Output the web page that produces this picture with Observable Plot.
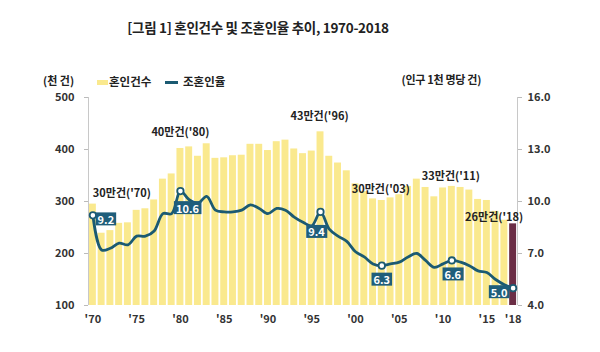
<!DOCTYPE html>
<html><head><meta charset="utf-8">
<script src="https://cdn.jsdelivr.net/npm/d3@7"></script>
<script src="https://cdn.jsdelivr.net/npm/@observablehq/plot@0.6"></script>
<style>
body{margin:0;background:#fff;font-family:"Noto Sans CJK KR","Noto Sans",sans-serif;}
#wrap{position:relative;width:600px;height:352px;overflow:hidden}
#head{position:relative;height:88px}
.t{position:absolute;white-space:nowrap;font-weight:bold;color:#222;line-height:16px}
</style></head><body>
<div id="wrap">
<div id="head">
 <div class="t" style="left:0;width:516px;text-align:center;top:19px;font-size:13.5px;letter-spacing:-0.3px">[그림 1] 혼인건수 및 조혼인율 추이, 1970-2018</div>
 <div class="t" style="left:43px;top:72px;font-size:11px">(천 건)</div>
 <div class="t" style="left:97px;top:73px;font-size:11.5px"><span style="display:inline-block;width:11px;height:5px;background:#fae98e;vertical-align:middle;margin-right:1px"></span>혼인건수</div>
 <div class="t" style="left:165px;top:73px;font-size:11.5px"><span style="display:inline-block;width:13px;height:3px;background:#1b5a72;vertical-align:middle;margin-right:5px"></span>조혼인율</div>
 <div class="t" style="right:119px;top:71px;font-size:11px;letter-spacing:-0.3px">(인구 1천 명당 건)</div>
</div>
<div id="chart"></div>
</div>
<script>
// ---- data ----
const years = [1970,1971,1972,1973,1974,1975,1976,1977,1978,1979,
  1980,1981,1982,1983,1984,1985,1986,1987,1988,1989,
  1990,1991,1992,1993,1994,1995,1996,1997,1998,1999,
  2000,2001,2002,2003,2004,2005,2006,2007,2008,2009,
  2010,2011,2012,2013,2014,2015,2016,2017,2018];
// 혼인건수 (천 건)
const marriages = [295,239,244,258,259,283,286,303,343,353,
  402,405,387,411,383,384,388,389,410,410,
  398,415,418,401,392,397,434,387,374,359,
  334,319,305,302,307,313,329,343,327,309,
  326,329,327,322,304,302,281,264,257];
// 조혼인율 (인구 1천 명당 건)
const rates = [9.2,7.2,7.3,7.6,7.5,8.0,8.0,8.3,9.3,9.3,
  10.6,10.1,9.9,10.3,9.5,9.4,9.4,9.5,9.8,9.6,
  9.3,9.6,9.5,9.1,8.8,8.6,9.4,8.4,8.0,7.7,
  7.1,6.8,6.4,6.3,6.4,6.5,6.8,7.0,6.6,6.2,
  6.4,6.6,6.5,6.3,6.0,5.9,5.5,5.2,5.0];
const countTicks = [100,200,300,400,500];
const rateTicks = [4,7,10,13,16];
const xTickYears = [1970,1975,1980,1985,1990,1995,2000,2005,2010,2015,2018];
const xTickLabels = ["'70","'75","'80","'85","'90","'95","'00","'05","'10","'15","'18"];
const highlightYears = [1970,1980,1996,2003,2011,2018];
const countLabels = ["30만건('70)","40만건('80)","43만건('96)","30만건('03)","33만건('11)","26만건('18)"];

// ---- layout / style (not data) ----
const countOffsets = [[29,-11],[0,-16],[-1,-15],[-1,-11],[-1,-10],[-19,-6]];
const rateOffsets = [[13,5],[7,18],[-4,21],[0,15],[1,15],[-14,5]];
const YELLOW = "#fae98e", MAROON = "#6b2d45", TEAL = "#1b5a72", BOX = "#1f5e7b";
const LABEL_WHITE = "#fffffe";

// dual axis mapping: rate (4..16) onto count scale (100..500)
const toY = r => 100 + (r - 4) * 400 / 12;
const toRate = v => 4 + (v - 100) * 12 / 400;

const rows = years.map((year, i) => ({year, count: marriages[i], rate: rates[i]}));
const hi = highlightYears.map((year, i) => ({year, count: marriages[years.indexOf(year)], rate: rates[years.indexOf(year)], label: countLabels[i]}));
const xLab = new Map(xTickYears.map((y, i) => [y, xTickLabels[i]]));

const marks = [
  Plot.rectY(rows.filter(d => d.year !== 2018), {x1: d => d.year - 0.5, x2: d => d.year + 0.5, y1: d => 100, y2: "count", insetLeft: 0.9, insetRight: 0.9, fill: YELLOW}),
  Plot.rectY(rows.filter(d => d.year === 2018), {x1: d => d.year - 0.5, x2: d => d.year + 0.5, y1: d => 100, y2: "count", insetLeft: 0.9, insetRight: 0.9, fill: MAROON}),
  Plot.ruleX([1969.5, 2018.5], {stroke: "#c8c8c8", strokeWidth: 1}),
  Plot.axisY({anchor: "left", ticks: countTicks, tickSize: 4, tickPadding: 10, stroke: "#bbb", fill: "#333", label: null, fontWeight: "bold"}),
  Plot.axisY({anchor: "right", ticks: rateTicks.map(toY), tickFormat: v => toRate(v).toFixed(1), tickSize: 4, tickPadding: 6, stroke: "#bbb", fill: "#333", label: null, fontWeight: "bold"}),
  Plot.axisX({ticks: xTickYears, tickFormat: d => xLab.get(d), tickSize: 0, tickPadding: 10, fill: "#333", label: null, fontWeight: "bold"}),
  Plot.line(rows, {x: "year", y: d => toY(d.rate), stroke: TEAL, strokeWidth: 2.8, curve: "catmull-rom"}),
  Plot.dot(hi, {x: "year", y: d => toY(d.rate), r: 3.2, fill: "white", stroke: TEAL, strokeWidth: 1.8})
];
hi.forEach((d, i) => {
  marks.push(Plot.text([d], {x: "year", y: "count", text: "label", dx: countOffsets[i][0], dy: countOffsets[i][1], fontSize: 11, fontWeight: "bold", fill: "#222"}));
  marks.push(Plot.text([d], {x: "year", y: e => toY(e.rate), text: e => e.rate.toFixed(1), dx: rateOffsets[i][0], dy: rateOffsets[i][1], fontSize: 11, fontWeight: "bold", fill: LABEL_WHITE}));
});

const plot = Plot.plot({
  width: 600, height: 264,
  marginTop: 9, marginBottom: 47, marginLeft: 88, marginRight: 83,
  style: {fontFamily: '"Noto Sans CJK KR","Noto Sans",sans-serif', fontSize: "11px", background: "white", color: "#333"},
  x: {type: "linear", domain: [1969.5, 2018.5]},
  y: {domain: [100, 500]},
  marks
});
document.getElementById("chart").append(plot);

// dark boxes behind the rate labels (found by their fill colour)
const svgRoot = plot.tagName.toLowerCase() === "svg" ? plot : plot.querySelector("svg");
Array.from(svgRoot.querySelectorAll("text")).filter(t => {
  const f = getComputedStyle(t).fill;
  return f === "rgb(255, 255, 254)";
}).forEach(t => {
  const b = t.getBBox();
  const r = document.createElementNS("http://www.w3.org/2000/svg", "rect");
  const h = 13;
  r.setAttribute("x", b.x - 2);
  r.setAttribute("y", b.y + b.height / 2 - h / 2);
  r.setAttribute("width", b.width + 4);
  r.setAttribute("height", h);
  r.setAttribute("fill", BOX);
  const tr = t.getAttribute("transform");
  if (tr) r.setAttribute("transform", tr);
  t.parentNode.insertBefore(r, t);
});
</script>
</body></html>
